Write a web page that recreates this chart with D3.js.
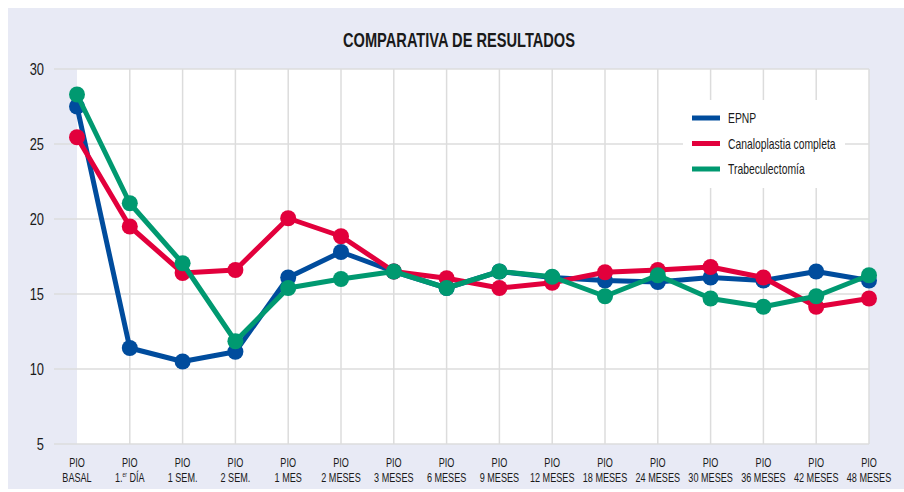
<!DOCTYPE html>
<html>
<head>
<meta charset="utf-8">
<script src="https://cdn.jsdelivr.net/npm/d3@7"></script>
<style>
  html, body { margin: 0; padding: 0; background: #fff; }
  svg text { font-family: 'Liberation Sans', Arial, sans-serif; fill: #1a1a1a; }
</style>
</head>
<body>
<div id="chart"></div>
<script>
/* comparativa de resultados - line chart */

const categories = ["BASAL", "1.er DÍA", "1 SEM.", "2 SEM.", "1 MES", "2 MESES", "3 MESES", "6 MESES",
  "9 MESES", "12 MESES", "18 MESES", "24 MESES", "30 MESES", "36 MESES", "42 MESES", "48 MESES"]

const epnp = [27.5, 11.4, 10.5, 11.15, 16.1, 17.8, 16.5, 15.4, 16.5, 16.1, 15.9, 15.8, 16.1, 15.9, 16.5, 15.9]
const canaloplastia = [25.45, 19.5, 16.4, 16.6, 20.05, 18.85, 16.5, 16.05, 15.4, 15.75, 16.45, 16.6, 16.8, 16.1, 14.15, 14.7]
const trabeculectomia = [28.3, 21.05, 17.05, 11.85, 15.4, 16.0, 16.5, 15.4, 16.5, 16.15, 14.85, 16.25, 14.7, 14.15, 14.85, 16.25]

const seriesNames = ["EPNP", "Canaloplastia completa", "Trabeculectomía"]
const seriesColors = ["#004c9d", "#e2003c", "#009970"]
const yTicks = [5, 10, 15, 20, 25, 30]

const width = 904, height = 492

let svg = d3.select("#chart").append("svg")
  .attr("width", width)
  .attr("height", height)

// the source uses a condensed face, so squeeze text horizontally
const squeeze = (x, y, sx) => `translate(${x},${y}) scale(${sx},1)`

// panel background
svg.append("rect")
  .attr("x", 8).attr("y", 8)
  .attr("width", width - 8).attr("height", 481)
  .attr("fill", "#e8eaf5")

let x = d3.scalePoint().domain(categories).range([77, 869])
let y = d3.scaleLinear().domain([5, 30]).range([444, 69])

// plot area
svg.append("rect")
  .attr("x", x.range()[0]).attr("y", y(30))
  .attr("width", x.range()[1] - x.range()[0])
  .attr("height", y(5) - y(30))
  .attr("fill", "#fff")

// grid
svg.append("g").selectAll("line").data(yTicks).join("line")
  .attr("x1", 54).attr("x2", x.range()[1])
  .attr("y1", d => y(d)).attr("y2", d => y(d))
  .attr("stroke", "#dcdcdc").attr("stroke-width", 1.5)

svg.append("g").selectAll("line").data(categories.slice(1)).join("line")
  .attr("x1", d => x(d)).attr("x2", d => x(d))
  .attr("y1", y(30)).attr("y2", y(5))
  .attr("stroke", "#dcdcdc").attr("stroke-width", 1.5)

// y labels
svg.append("g").selectAll("text").data(yTicks).join("text")
  .attr("transform", d => squeeze(44, y(d), 0.78))
  .attr("dy", "0.36em")
  .attr("text-anchor", "end")
  .style("font-size", "16.5px")
  .text(d => d)

// x labels
let xl = svg.append("g").selectAll("text").data(categories).join("text")
  .attr("transform", d => squeeze(x(d), 0, 0.7))
  .attr("text-anchor", "middle")
  .style("font-size", "13px")
xl.append("tspan").attr("x", 0).attr("y", 467.5).text("PIO")
xl.each(function (d) {
  let t = d3.select(this).append("tspan").attr("x", 0).attr("y", 482)
  if (d.startsWith("1.er")) {
    t.text("1.")
    d3.select(this).append("tspan").attr("dy", -5).style("font-size", "7px").text("er")
    d3.select(this).append("tspan").attr("dy", 5).text(" DÍA")
  } else {
    t.text(d)
  }
})

// title
svg.append("text")
  .attr("x", 343).attr("y", 47)
  .attr("textLength", 232)
  .attr("lengthAdjust", "spacingAndGlyphs")
  .style("font-size", "21px")
  .style("font-weight", "bold")
  .text("COMPARATIVA DE RESULTADOS")

// legend
let legend = svg.append("g")
legend.append("rect")
  .attr("x", 683).attr("y", 100)
  .attr("width", 162).attr("height", 88)
  .attr("fill", "#fff")
let li = legend.selectAll("g").data(seriesNames).join("g")
  .attr("transform", (d, i) => `translate(692, ${118 + i * 25.5})`)
li.append("line")
  .attr("x1", 0).attr("x2", 28)
  .attr("stroke", (d, i) => seriesColors[i])
  .attr("stroke-width", 5)
li.append("text")
  .attr("transform", squeeze(36, 0, 0.74))
  .attr("dy", "0.36em")
  .style("font-size", "14px")
  .text(d => d)

// series
let allSeries = [epnp, canaloplastia, trabeculectomia]
let line = d3.line()
  .x((d, i) => x(categories[i]))
  .y(d => y(d))

allSeries.forEach((vals, si) => {
  let g = svg.append("g")
  g.append("path")
    .datum(vals)
    .attr("d", line)
    .attr("fill", "none")
    .attr("stroke", seriesColors[si])
    .attr("stroke-width", 5)
    .attr("stroke-linejoin", "round")
  g.selectAll("circle").data(vals).join("circle")
    .attr("cx", (d, i) => x(categories[i]))
    .attr("cy", d => y(d))
    .attr("r", 8)
    .attr("fill", seriesColors[si])
})
</script>
</body>
</html>
